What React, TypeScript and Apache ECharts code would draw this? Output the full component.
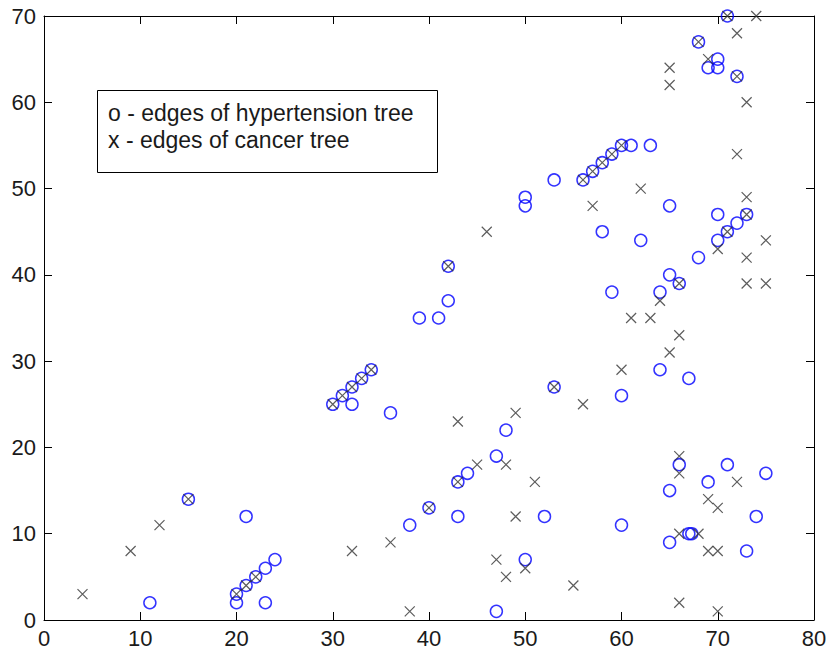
import React, { useEffect, useRef } from "react";
import * as echarts from "echarts";

// Edges of hypertension tree (o markers): [x, y]
const hypertensionEdges: number[][] = [
  [11, 2], [15, 14], [20, 2], [20, 3], [21, 4], [21, 12], [22, 5], [23, 2], [23, 6], [24, 7],
  [30, 25], [31, 26], [32, 25], [32, 27], [33, 28], [34, 29], [36, 24], [38, 11], [39, 35], [40, 13],
  [41, 35], [42, 37], [42, 41], [43, 12], [43, 16], [44, 17], [47, 1], [47, 19], [48, 22], [50, 7],
  [50, 48], [50, 49], [52, 12], [53, 27], [53, 51], [56, 51], [57, 52], [58, 53], [59, 54], [60, 55],
  [61, 55], [63, 55], [58, 45], [59, 38], [60, 11], [60, 26], [62, 44], [64, 29], [64, 38], [65, 9],
  [65, 15], [65, 40], [65, 48], [66, 18], [66, 39], [67, 10], [67.3, 10], [67, 28], [68, 42], [68, 67],
  [69, 16], [69, 64], [70, 44], [70, 47], [70, 64], [70, 65], [71, 18], [71, 45], [71, 70], [72, 46],
  [72, 63], [73, 8], [73, 47], [74, 12], [75, 17],
];

// Edges of cancer tree (x markers): [x, y]
const cancerEdges: number[][] = [
  [4, 3], [9, 8], [12, 11], [15, 14], [20, 3], [21, 4], [22, 5],
  [30, 25], [31, 26], [32, 27], [33, 28], [34, 29],
  [32, 8], [36, 9], [38, 1], [40, 13], [42, 41], [43, 16], [43, 23], [45, 18], [46, 45], [47, 7],
  [48, 5], [48, 18], [49, 12], [49, 24], [50, 6], [51, 16], [53, 27], [55, 4],
  [56, 25], [56, 51], [57, 48], [57, 52], [58, 53], [59, 54], [60, 55], [60, 29], [61, 35], [62, 50],
  [63, 35], [64, 37], [65, 31], [65, 62], [65, 64], [66, 2], [66, 10], [66, 17], [66, 19], [66, 33],
  [66, 39], [68, 10], [68, 67], [69, 8], [69, 14], [69, 65], [70, 1], [70, 8], [70, 13], [70, 43],
  [71, 45], [71, 70], [72, 16], [72, 54], [72, 63], [72, 68], [73, 39], [73, 42], [73, 47], [73, 49],
  [73, 60], [74, 70], [75, 39], [75, 44],
];

const xRange = { min: 0, max: 80, interval: 10 };
const yRange = { min: 0, max: 70, interval: 10 };

const legendLines: string[] = [
  "o - edges of hypertension tree",
  "x - edges of cancer tree",
];

const FONT = "'Liberation Sans', Arial, Helvetica, sans-serif";

export default function App() {
  const ref = useRef<HTMLDivElement>(null);

  useEffect(() => {
    document.body.style.margin = "0";
    if (!ref.current) return;
    const chart = echarts.init(ref.current, undefined, { renderer: "svg" });

    const axisCommon = {
      type: "value" as const,
      splitLine: { show: false },
      axisLine: { show: true, onZero: false, lineStyle: { color: "#000", width: 1 } },
      axisTick: { show: true, inside: true, length: 8, lineStyle: { color: "#000", width: 1 } },
    };

    const option: any = {
      animation: false,
      backgroundColor: "#ffffff",
      grid: {
        left: 44,
        right: 14,
        top: 16,
        bottom: 34,
        containLabel: false,
        outerBoundsMode: "none",
      },
      xAxis: [
        {
          ...axisCommon,
          position: "bottom",
          min: xRange.min,
          max: xRange.max,
          interval: xRange.interval,
          axisLabel: {
            show: true,
            margin: 7,
            fontSize: 22,
            fontFamily: FONT,
            color: "#1a1a1a",
          },
        },
        {
          ...axisCommon,
          position: "top",
          min: xRange.min,
          max: xRange.max,
          interval: xRange.interval,
          axisLabel: { show: false },
        },
      ],
      yAxis: [
        {
          ...axisCommon,
          position: "left",
          min: yRange.min,
          max: yRange.max,
          interval: yRange.interval,
          axisLabel: {
            show: true,
            margin: 8,
            fontSize: 22,
            fontFamily: FONT,
            color: "#1a1a1a",
          },
        },
        {
          ...axisCommon,
          position: "right",
          min: yRange.min,
          max: yRange.max,
          interval: yRange.interval,
          axisLabel: { show: false },
        },
      ],
      series: [
        {
          name: "hypertension",
          type: "scatter",
          xAxisIndex: 0,
          yAxisIndex: 0,
          data: hypertensionEdges,
          symbol: "circle",
          symbolSize: 12,
          clip: false,
          itemStyle: {
            color: "rgba(0,0,0,0)",
            borderColor: "#0000ff",
            borderWidth: 1.5,
          },
          emphasis: { disabled: true },
          z: 2,
        },
        {
          name: "cancer",
          type: "scatter",
          xAxisIndex: 0,
          yAxisIndex: 0,
          data: cancerEdges,
          symbol: "path://M0,0L10,10M10,0L0,10",
          symbolSize: 10,
          clip: false,
          itemStyle: {
            color: "rgba(0,0,0,0)",
            borderColor: "#333333",
            borderWidth: 1.2,
          },
          emphasis: { disabled: true },
          z: 3,
        },
      ],
      graphic: [
        {
          type: "rect",
          left: 97,
          top: 90,
          shape: { x: 0, y: 0, width: 340, height: 82 },
          style: { fill: "#ffffff", stroke: "#000000", lineWidth: 1 },
          z: 10,
        },
        {
          type: "text",
          left: 108,
          top: 101,
          style: {
            text: legendLines[0],
            fontSize: 23,
            fontFamily: FONT,
            fill: "#1a1a1a",
          },
          z: 11,
        },
        {
          type: "text",
          left: 108,
          top: 128,
          style: {
            text: legendLines[1],
            fontSize: 23,
            fontFamily: FONT,
            fill: "#1a1a1a",
          },
          z: 11,
        },
      ],
    };

    chart.setOption(option);
    return () => {
      chart.dispose();
    };
  }, []);

  return <div ref={ref} style={{ width: 828, height: 654 }} />;
}
